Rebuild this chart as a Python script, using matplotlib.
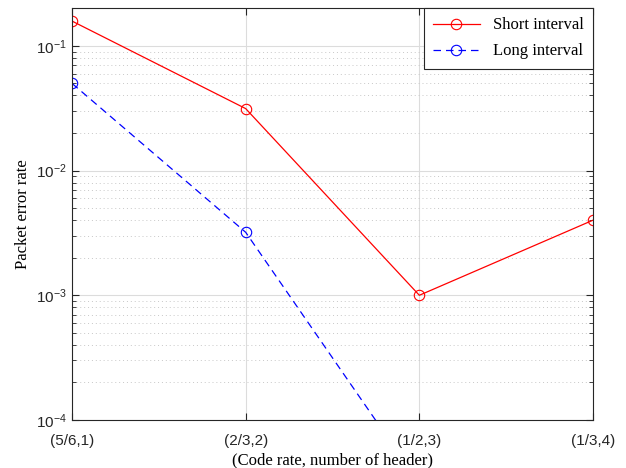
import numpy as np
import matplotlib
matplotlib.use("Agg")
import matplotlib.pyplot as plt
from matplotlib.ticker import LogLocator, NullFormatter

x_labels = ["(5/6,1)", "(2/3,2)", "(1/2,3)", "(1/3,4)"]
x_pos = [1, 2, 3, 4]
short_interval = [0.158, 0.0314, 0.001, 0.004]
long_interval = [0.050, 0.0032, 3.1e-5, np.nan]

fig = plt.figure(figsize=(6.26, 4.68), dpi=100)
ax = fig.add_axes([72/626, 1-420/468, (593-72)/626, (420-8.3)/468])

ax.plot(x_pos, short_interval, '-', color='red', lw=0.9, marker='o', ms=7.5,
        mfc='none', mec='red', mew=0.8, label='Short interval')
ax.plot(x_pos, long_interval, '--', color='blue', lw=0.9, marker='o', ms=7.5,
        mfc='none', mec='blue', mew=0.8, dashes=(6, 4), label='Long interval')

ax.set_yscale('log')
ax.set_ylim(1e-4, 0.2)
ax.set_xlim(1, 4)
ax.set_xticks(x_pos)
ax.set_xticklabels(x_labels, family='Liberation Sans', fontsize=11, color='#262626')
ax.yaxis.set_major_locator(LogLocator(base=10, numticks=10))
ax.yaxis.set_minor_locator(LogLocator(base=10, subs=np.arange(2, 10), numticks=20))
ax.yaxis.set_minor_formatter(NullFormatter())
for lab in ax.get_yticklabels():
    lab.set_family('Liberation Sans')
    lab.set_fontsize(11)
    lab.set_color('#262626')

ax.grid(True, which='major', color='#dcdcdc', lw=0.8, ls='-')
ax.grid(True, which='minor', axis='y', color='#c8c8c8', lw=0.7, ls=(0, (1, 3)))
ax.set_axisbelow(True)

ax.tick_params(which='both', direction='in', top=True, right=True, colors='#262626')
ax.tick_params(which='major', length=5, width=0.8, labelcolor='#262626')
ax.tick_params(which='minor', length=3, width=0.6)
ax.tick_params(axis='x', pad=10)
for s in ax.spines.values():
    s.set_color('#262626')
    s.set_linewidth(0.8)

ax.set_xlabel('(Code rate, number of header)', family='Liberation Serif', fontsize=12, labelpad=3)
ax.set_ylabel('Packet error rate', family='Liberation Serif', fontsize=12, labelpad=4)

leg = ax.legend(loc='upper right', prop={'family': 'Liberation Serif', 'size': 12},
                fancybox=False, edgecolor='#262626', framealpha=1,
                borderaxespad=0, handlelength=2.8, borderpad=0.55, labelspacing=0.6)
leg.get_frame().set_linewidth(0.8)

fig.savefig('out.png', dpi=100)
